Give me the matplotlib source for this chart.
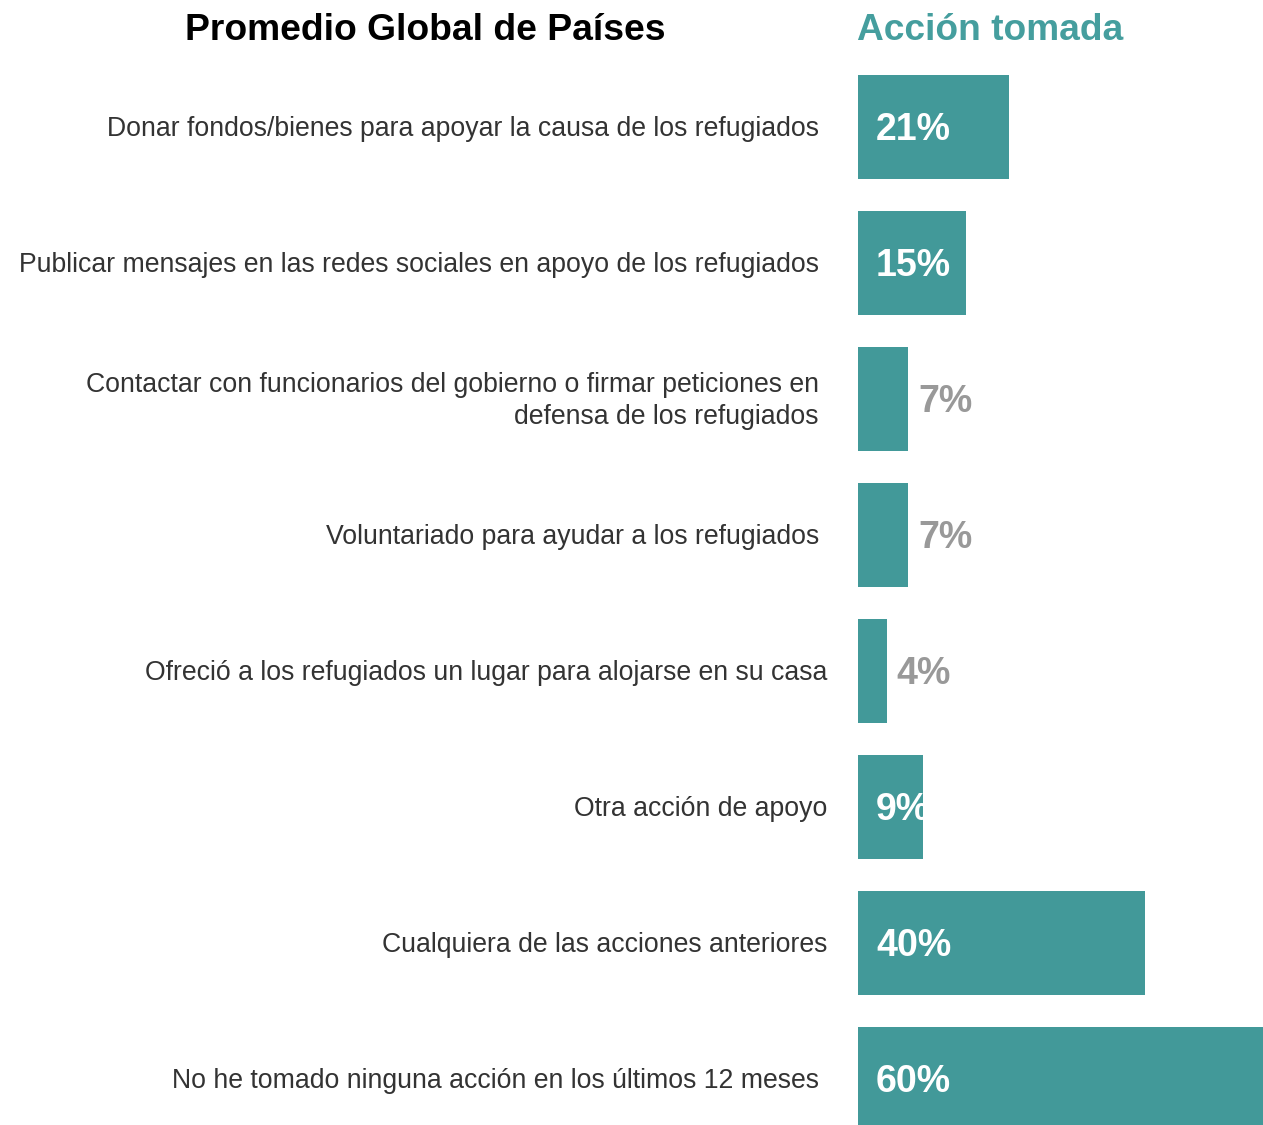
import matplotlib
matplotlib.use("Agg")
import matplotlib.pyplot as plt

categories = [
    "Donar fondos/bienes para apoyar la causa de los refugiados",
    "Publicar mensajes en las redes sociales en apoyo de los refugiados",
    "Contactar con funcionarios del gobierno o firmar peticiones en\ndefensa de los refugiados",
    "Voluntariado para ayudar a los refugiados",
    "Ofreció a los refugiados un lugar para alojarse en su casa",
    "Otra acción de apoyo",
    "Cualquiera de las acciones anteriores",
    "No he tomado ninguna acción en los últimos 12 meses",
]
values = [21, 15, 7, 7, 4, 9, 40, 60]
left_title = "Promedio Global de Países"
right_title = "Acción tomada"

W, H = 1263, 1125
fig = plt.figure(figsize=(W / 100, H / 100), dpi=100)
plt.rcParams['font.family'] = ['Liberation Sans', 'DejaVu Sans']

bar_color = "#429999"
px_per_pct = 7.175
ax_left = 858
ax = fig.add_axes([ax_left / W, 0, (W - ax_left) / W, 1])
ax.set_xlim(0, (W - ax_left) / px_per_pct)
ax.set_ylim((H - 127) / 136, -127 / 136)
ax.axis("off")

label_offsets = [-39, -39, -39, -39, -31, -31, -31, -39]

for i, (cat, v) in enumerate(zip(categories, values)):
    bar = ax.barh(i, v, height=0.765, color=bar_color, left=0)[0]
    ax.annotate(cat, xy=(0, i), xytext=(label_offsets[i], -2), textcoords="offset pixels",
                ha="right", va="center", fontsize=19.2, color="#333333", linespacing=1.3,
                annotation_clip=False)
    if v >= 9:
        t = ax.annotate(f"{v}%", xy=(0, i), xytext=(18, -3), textcoords="offset pixels",
                        ha="left", va="center", fontsize=27, fontweight="bold", color="white")
        t.set_clip_path(bar)
    else:
        ax.annotate(f"{v}%", xy=(v, i), xytext=(10, -3), textcoords="offset pixels",
                    ha="left", va="center", fontsize=27, fontweight="bold", color="#999999")

fig.text(425 / W, 1 - 31 / H, left_title, ha="center", va="center",
         fontsize=26.8, fontweight="bold", color="black")
fig.text(857 / W, 1 - 31 / H, right_title, ha="left", va="center",
         fontsize=26.7, fontweight="bold", color="#459e9e")

fig.savefig("out.png", dpi=100)
